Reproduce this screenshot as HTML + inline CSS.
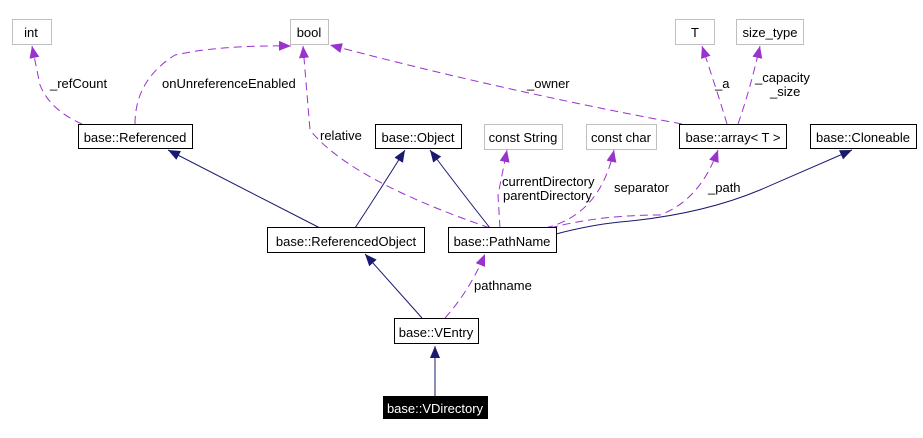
<!DOCTYPE html>
<html><head><meta charset="utf-8"><style>
body{margin:0;background:#fff}
svg{display:block}
text{font-family:"Liberation Sans",sans-serif;font-size:13px;fill:#000}
</style></head><body>
<svg width="923" height="438" viewBox="0 0 923 438">
<defs>
<marker id="bn" markerWidth="13" markerHeight="12" refX="12" refY="5" orient="auto" markerUnits="userSpaceOnUse"><path d="M0,0 L12,5 L0,10 z" fill="#191970"/></marker>
<marker id="pu" markerWidth="13" markerHeight="12" refX="12" refY="5" orient="auto" markerUnits="userSpaceOnUse"><path d="M0,0 L12,5 L0,10 z" fill="#9a32cd"/></marker>
</defs>
<g fill="none" stroke="#191970" stroke-width="1">
<path d="M320,228 L168,150" marker-end="url(#bn)"/>
<path d="M355,228 Q380,190 405,150" marker-end="url(#bn)"/>
<path d="M490,228 Q460,190 430,150" marker-end="url(#bn)"/>
<path d="M556,234 Q590,225 620,222 Q700,215 760,190 L852,150" marker-end="url(#bn)"/>
<path d="M422,318 L365,254" marker-end="url(#bn)"/>
<path d="M435,396 L435,346" marker-end="url(#bn)"/>
</g>
<g fill="none" stroke="#9a32cd" stroke-width="1" stroke-dasharray="8,5">
<path d="M82,124 Q50,110 40,85 L32,46" marker-end="url(#pu)"/>
<path d="M135,124 Q135,80 175,55 Q220,45 291,46" marker-end="url(#pu)"/>
<path d="M490,228 Q350,180 310,130 L303,46" marker-end="url(#pu)"/>
<path d="M682,124 Q500,90 330,45" marker-end="url(#pu)"/>
<path d="M500,228 L498,195 L507,150" marker-end="url(#pu)"/>
<path d="M545,228 Q600,215 614,150" marker-end="url(#pu)"/>
<path d="M550,228 Q600,215 660,215 Q700,200 718,150" marker-end="url(#pu)"/>
<path d="M727,124 Q720,100 702,46" marker-end="url(#pu)"/>
<path d="M738,124 Q750,90 760,46" marker-end="url(#pu)"/>
<path d="M445,318 Q470,290 485,254" marker-end="url(#pu)"/>
</g>
<g stroke="#bfbfbf" fill="#fff">
<rect x="12.5" y="19.5" width="39" height="25"/>
<rect x="290.5" y="19.5" width="38" height="25"/>
<rect x="675.5" y="19.5" width="39" height="25"/>
<rect x="736.5" y="19.5" width="67" height="25"/>
<rect x="484.5" y="124.5" width="78" height="25"/>
<rect x="586.5" y="124.5" width="70" height="25"/>
</g>
<g stroke="#000" fill="#fff">
<rect x="78.5" y="124.5" width="114" height="24"/>
<rect x="375.5" y="124.5" width="86" height="24"/>
<rect x="679.5" y="124.5" width="107" height="24"/>
<rect x="810.5" y="124.5" width="106" height="24"/>
<rect x="267.5" y="227.5" width="157" height="25"/>
<rect x="448.5" y="227.5" width="108" height="25"/>
<rect x="394.5" y="318.5" width="84" height="25"/>
</g>
<rect x="383" y="396" width="105" height="23" fill="#000"/>
<g text-anchor="middle">
<text x="31" y="37">int</text>
<text x="309" y="37">bool</text>
<text x="695" y="37">T</text>
<text x="770" y="37">size_type</text>
<text x="523" y="142">const String</text>
<text x="621" y="142">const char</text>
<text x="135" y="142">base::Referenced</text>
<text x="418" y="142">base::Object</text>
<text x="733" y="142">base::array&lt; T &gt;</text>
<text x="863" y="142">base::Cloneable</text>
<text x="346" y="246">base::ReferencedObject</text>
<text x="502" y="246">base::PathName</text>
<text x="436" y="337">base::VEntry</text>
<text x="435" y="413" style="fill:#fff">base::VDirectory</text>
</g>
<text x="50" y="88">_refCount</text>
<text x="162" y="88">onUnreferenceEnabled</text>
<text x="320" y="140">relative</text>
<text x="527" y="88">_owner</text>
<text x="715" y="88">_a</text>
<text x="755" y="82">_capacity</text>
<text x="770" y="96">_size</text>
<text x="502" y="186">currentDirectory</text>
<text x="503" y="200">parentDirectory</text>
<text x="614" y="192">separator</text>
<text x="708" y="192">_path</text>
<text x="474" y="290">pathname</text>
</svg>
</body></html>
